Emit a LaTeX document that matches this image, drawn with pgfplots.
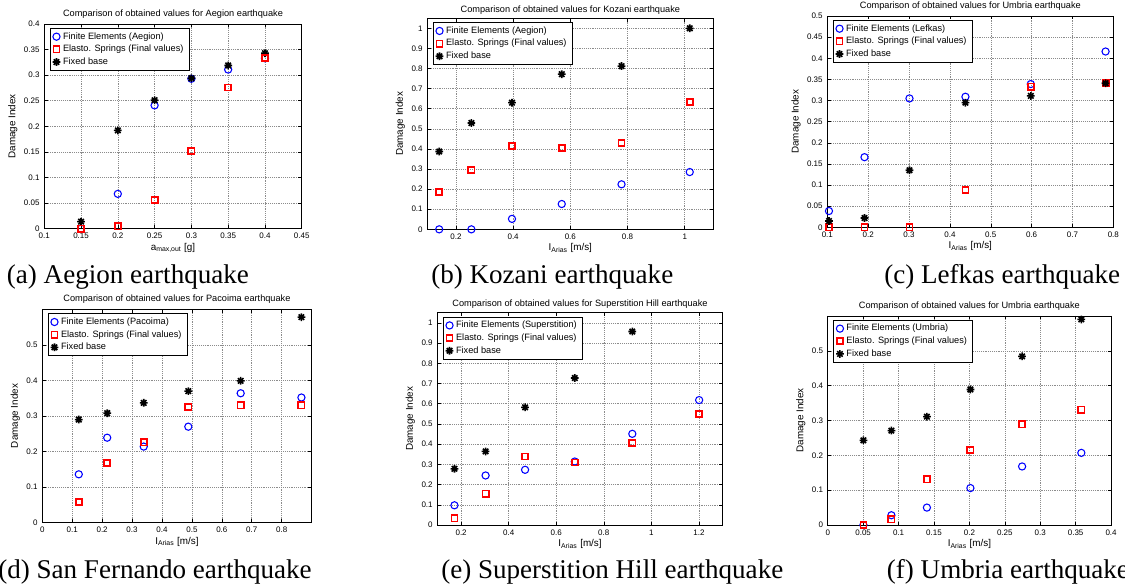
\documentclass[border=0pt]{standalone}
\usepackage{fontspec}
\setmainfont{Liberation Sans}
\newfontfamily\capfont{Liberation Serif}
\usepackage{pgfplots}
\pgfplotsset{compat=1.18}

\pgfdeclareplotmark{mstar}{%
  \pgfpathmoveto{\pgfqpoint{-\pgfplotmarksize}{0pt}}\pgfpathlineto{\pgfqpoint{\pgfplotmarksize}{0pt}}%
  \pgfpathmoveto{\pgfqpoint{0pt}{-\pgfplotmarksize}}\pgfpathlineto{\pgfqpoint{0pt}{\pgfplotmarksize}}%
  \pgfpathmoveto{\pgfqpoint{-.707\pgfplotmarksize}{-.707\pgfplotmarksize}}\pgfpathlineto{\pgfqpoint{.707\pgfplotmarksize}{.707\pgfplotmarksize}}%
  \pgfpathmoveto{\pgfqpoint{-.707\pgfplotmarksize}{.707\pgfplotmarksize}}\pgfpathlineto{\pgfqpoint{.707\pgfplotmarksize}{-.707\pgfplotmarksize}}%
  \pgfusepathqstroke}

\pgfplotsset{
  dstyle/.style={
    scale only axis, anchor=south west, clip=false,
    grid=major, grid style={densely dotted, black!45, line width=0.4pt},
    axis line style={black, line width=0.5pt},
    tick align=inside, major tick length=2.5pt, tick style={black, line width=0.4pt},
    scaled ticks=false,
    xticklabel style={font=\fontsize{6}{7}\selectfont, /pgf/number format/.cd, fixed, precision=2, assume math mode=true},
    yticklabel style={font=\fontsize{6}{7}\selectfont, /pgf/number format/.cd, fixed, precision=2, assume math mode=true},
    title style={font=\fontsize{6.9}{8}\selectfont, at={(0.5,1)}, anchor=base, yshift=-0.4pt},
    label style={font=\fontsize{7.4}{9}\selectfont},
    xlabel style={yshift=4pt},
    ylabel style={yshift=-2pt},
    ylabel={Damage Index},
    xlabel={I\textsubscript{Arias} [m/s]},
    legend style={at={(0,1)}, anchor=north west, xshift=4pt, yshift=-3pt,
      font=\fontsize{6.9}{8}\selectfont, draw=black, line width=0.5pt,
      inner xsep=2pt, inner ysep=1pt, row sep=-1pt, cells={anchor=west}},
    legend cell align=left,
  },
  fe/.style={only marks, mark=o, color=blue, mark size=2.7pt, line width=0.8pt},
  es/.style={only marks, mark=square, color=red, mark size=2.3pt, line width=1.3pt},
  fb/.style={only marks, mark=mstar, color=black, mark size=2.9pt, line width=1.2pt},
}

\begin{document}
\begin{tikzpicture}
\useasboundingbox (0pt,0pt) rectangle (843.75pt,-439.5pt);

% (a)
\begin{axis}[dstyle, at={(33.2pt,-171.5pt)}, width=193.1pt, height=153.5pt,
  xmin=0.1, xmax=0.45, ymin=0, ymax=0.4,
  xtick={0.1,0.15,...,0.46}, ytick={0,0.05,...,0.41},
  title={Comparison of obtained values for Aegion earthquake},
  xlabel={a\textsubscript{max,out} [g]}]
\addplot[fe] coordinates {(0.15,0) (0.2,0.068) (0.25,0.241) (0.3,0.293) (0.35,0.311) (0.4,0.333)};
\addlegendentry{Finite Elements (Aegion)}
\addplot[fb, forget plot] coordinates {(0.15,0.0137) (0.2,0.192) (0.25,0.251) (0.3,0.294) (0.35,0.319) (0.4,0.343)};
\addplot[es] coordinates {(0.15,0) (0.2,0.0046) (0.25,0.056) (0.3,0.152) (0.35,0.276) (0.4,0.333)};
\addlegendentry{Elasto. Springs (Final values)}
\addlegendimage{fb}
\addlegendentry{Fixed base}
\end{axis}

% (b)
\begin{axis}[dstyle, at={(320.5pt,-172pt)}, width=214.5pt, height=158.3pt,
  xmin=0.1, xmax=1.1, ymin=0, ymax=1.05,
  xtick={0.2,0.4,...,1.01}, ytick={0,0.1,...,1.01},
  title={Comparison of obtained values for Kozani earthquake},
  title style={yshift=-1.4pt}]
\addplot[fe] coordinates {(0.1415,0) (0.254,0) (0.396,0.052) (0.570,0.126) (0.779,0.224) (1.0175,0.285)};
\addlegendentry{Finite Elements (Aegion)}
\addplot[es] coordinates {(0.1415,0.186) (0.254,0.295) (0.396,0.415) (0.570,0.404) (0.779,0.429) (1.0175,0.633)};
\addlegendentry{Elasto. Springs (Final values)}
\addplot[fb] coordinates {(0.1415,0.387) (0.254,0.529) (0.396,0.630) (0.570,0.772) (0.779,0.812) (1.0175,1.0)};
\addlegendentry{Fixed base}
\end{axis}

% (c)
\begin{axis}[dstyle, at={(620.5pt,-170.5pt)}, width=214.5pt, height=158.5pt,
  xmin=0.1, xmax=0.8, ymin=0, ymax=0.5,
  xtick={0.1,0.2,...,0.81}, ytick={0,0.05,...,0.51},
  title={Comparison of obtained values for Umbria earthquake}]
\addplot[fe] coordinates {(0.104,0.0386) (0.191,0.166) (0.301,0.305) (0.438,0.309) (0.598,0.339) (0.781,0.416)};
\addlegendentry{Finite Elements (Lefkas)}
\addplot[es] coordinates {(0.104,0) (0.191,0) (0.301,0) (0.438,0.089) (0.598,0.333) (0.781,0.341)};
\addlegendentry{Elasto. Springs (Final values)}
\addplot[fb] coordinates {(0.104,0.015) (0.191,0.022) (0.301,0.135) (0.438,0.295) (0.598,0.311) (0.781,0.341)};
\addlegendentry{Fixed base}
\end{axis}

% (d)
\begin{axis}[dstyle, at={(31.7pt,-392pt)}, width=202pt, height=160pt,
  xmin=0, xmax=0.9, ymin=0, ymax=0.6,
  xtick={0,0.1,...,0.81}, ytick={0,0.1,...,0.51},
  title={Comparison of obtained values for Pacoima earthquake}]
\addplot[fe] coordinates {(0.122,0.136) (0.217,0.239) (0.339,0.214) (0.488,0.270) (0.663,0.364) (0.866,0.352)};
\addlegendentry{Finite Elements (Pacoima)}
\addplot[es] coordinates {(0.122,0.058) (0.217,0.167) (0.339,0.226) (0.488,0.325) (0.663,0.330) (0.866,0.330)};
\addlegendentry{Elasto. Springs (Final values)}
\addplot[fb] coordinates {(0.122,0.290) (0.217,0.308) (0.339,0.337) (0.488,0.370) (0.663,0.399) (0.866,0.578)};
\addlegendentry{Fixed base}
\end{axis}

% (e)
\begin{axis}[dstyle, at={(328pt,-393.75pt)}, width=214pt, height=159.2pt,
  xmin=0.1, xmax=1.3, ymin=0, ymax=1.05,
  xtick={0.2,0.4,...,1.21}, ytick={0,0.1,...,1.01},
  title={Comparison of obtained values for Superstition Hill earthquake},
  title style={yshift=-0.8pt}]
\addplot[fe] coordinates {(0.172,0.0975) (0.303,0.245) (0.469,0.273) (0.678,0.314) (0.920,0.451) (1.201,0.618)};
\addlegendentry{Finite Elements (Superstition)}
\addplot[es] coordinates {(0.172,0.033) (0.303,0.155) (0.469,0.339) (0.678,0.309) (0.920,0.405) (1.201,0.549)};
\addlegendentry{Elasto. Springs (Final values)}
\addplot[fb] coordinates {(0.172,0.278) (0.303,0.364) (0.469,0.582) (0.678,0.727) (0.920,0.957)};
\addlegendentry{Fixed base}
\end{axis}

% (f)
\begin{axis}[dstyle, at={(620.8pt,-393.75pt)}, width=212.5pt, height=156.8pt,
  xmin=0, xmax=0.4, ymin=0, ymax=0.6,
  xtick={0,0.05,...,0.41}, ytick={0,0.1,...,0.51},
  title={Comparison of obtained values for Umbria earthquake}]
\addplot[fe] coordinates {(0.0504,0) (0.0899,0.028) (0.140,0.050) (0.2014,0.106) (0.2744,0.168) (0.358,0.207)};
\addlegendentry{Finite Elements (Umbria)}
\addplot[es] coordinates {(0.0504,0) (0.0899,0.016) (0.140,0.131) (0.2014,0.215) (0.2744,0.289) (0.358,0.331)};
\addlegendentry{Elasto. Springs (Final values)}
\addplot[fb] coordinates {(0.0504,0.243) (0.0899,0.271) (0.140,0.311) (0.2014,0.389) (0.2744,0.484) (0.358,0.590)};
\addlegendentry{Fixed base}
\end{axis}

% captions
\begin{scope}[every node/.style={anchor=base west, inner sep=0pt, font=\capfont\fontsize{20.3}{24}\selectfont}]
\node at (5pt,-212.5pt) {(a) Aegion earthquake};
\node at (323.25pt,-212.5pt) {(b) Kozani earthquake};
\node at (663pt,-212.5pt) {(c) Lefkas earthquake};
\node at (-1.5pt,-433.7pt) {(d) San Fernando earthquake};
\node at (330.75pt,-433.7pt) {(e) Superstition Hill earthquake};
\node at (665pt,-433.7pt) {(f) Umbria earthquake};
\end{scope}
\end{tikzpicture}
\end{document}
